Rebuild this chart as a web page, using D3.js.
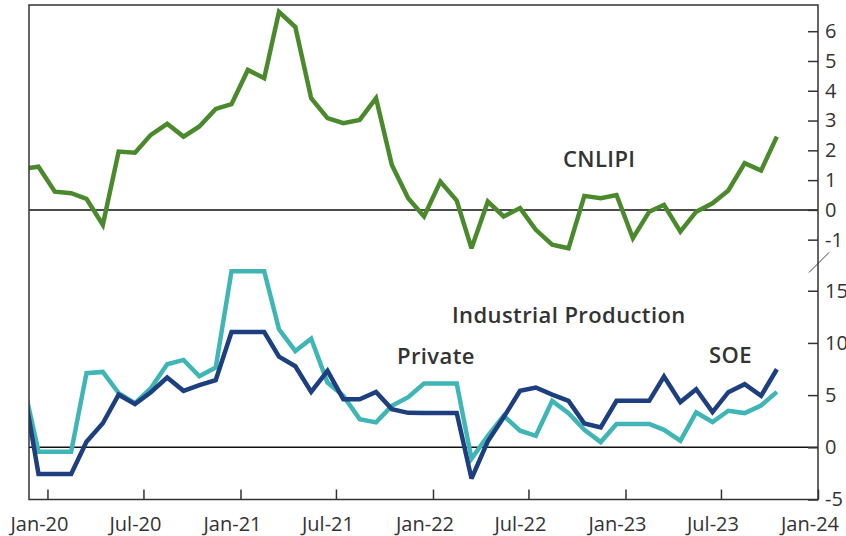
<!DOCTYPE html>
<html>
<head>
<meta charset="utf-8">
<script src="https://cdn.jsdelivr.net/npm/d3@7"></script>
<style>
  html, body { margin: 0; padding: 0; background: #ffffff; }
  svg { display: block; }
</style>
</head>
<body>
<svg id="chart" width="846" height="536"></svg>
<script>
// ---------- DATA ----------
const months = [
  "2019-11","2019-12",
  "2020-01","2020-02","2020-03","2020-04","2020-05","2020-06","2020-07","2020-08","2020-09","2020-10","2020-11","2020-12",
  "2021-01","2021-02","2021-03","2021-04","2021-05","2021-06","2021-07","2021-08","2021-09","2021-10","2021-11","2021-12",
  "2022-01","2022-02","2022-03","2022-04","2022-05","2022-06","2022-07","2022-08","2022-09","2022-10","2022-11","2022-12",
  "2023-01","2023-02","2023-03","2023-04","2023-05","2023-06","2023-07","2023-08","2023-09","2023-10"
];

// CNLIPI (top panel)
const cnlipi = [
  1.38, 1.45,
  0.61, 0.56, 0.37, -0.50, 1.96, 1.92, 2.52, 2.89, 2.46, 2.80, 3.39, 3.55,
  4.70, 4.42, 6.65, 6.14, 3.75, 3.08, 2.91, 3.02, 3.75, 1.51, 0.39, -0.22,
  0.95, 0.31, -1.29, 0.28, -0.22, 0.06, -0.67, -1.17, -1.29, 0.47, 0.39, 0.50,
  -0.95, -0.06, 0.17, -0.73, -0.06, 0.22, 0.65, 1.57, 1.32, 2.46
];

// Industrial Production – Private (bottom panel)
const privateIP = [
  6.46, -0.42,
  -0.42, -0.42, 7.10, 7.22, 5.19, 4.23, 5.66, 7.96, 8.37, 6.81, 7.64, 16.87,
  16.87, 16.87, 11.30, 9.23, 10.40, 6.20, 4.93, 2.70, 2.39, 3.97, 4.80, 6.11,
  6.11, 6.11, -1.10, 1.10, 3.02, 1.59, 1.10, 4.45, 3.26, 1.67, 0.50, 2.23,
  2.23, 2.23, 1.67, 0.63, 3.34, 2.42, 3.50, 3.28, 4.00, 5.31
];

// Industrial Production – SOE (bottom panel)
const soeIP = [
  6.27, -2.55,
  -2.55, -2.55, 0.53, 2.30, 5.04, 4.14, 5.28, 6.69, 5.41, 5.95, 6.43, 11.04,
  11.04, 11.04, 8.69, 7.77, 5.31, 7.32, 4.61, 4.61, 5.31, 3.66, 3.30, 3.28,
  3.28, 3.28, -3.00, 0.58, 2.87, 5.41, 5.73, 5.05, 4.45, 2.28, 1.91, 4.45,
  4.45, 4.45, 6.78, 4.33, 5.57, 3.37, 5.28, 6.05, 4.93, 7.48
];

const xTickDates  = ["2020-01","2020-07","2021-01","2021-07","2022-01","2022-07","2023-01","2023-07","2024-01"];
const xTickLabels = ["Jan-20","Jul-20","Jan-21","Jul-21","Jan-22","Jul-22","Jan-23","Jul-23","Jan-24"];
const topTicks    = [-1, 0, 1, 2, 3, 4, 5, 6];
const bottomTicks = [-5, 0, 5, 10, 15];

// ---------- LAYOUT ----------
const L = 29, R = 818, T = 5, B = 499.5;
const BREAK_Y = 262;

const svg = d3.select("#chart");
const parse = d3.utcParse("%Y-%m");
const midMonth = d => d3.utcDay.offset(parse(d), 14);

const x = d3.scaleUtc()
  .domain([Date.UTC(2019, 10, 27), Date.UTC(2024, 0, 1)])
  .range([L, R]);

const yTop = d3.scaleLinear().domain([-1.75, 6.88]).range([BREAK_Y, T]);
const yBot = d3.scaleLinear().domain([-5, 17.8]).range([B, BREAK_Y - 0.5]);

const textColor = "#333333";
const fontFam = "'Open Sans', Lato, 'DejaVu Sans', sans-serif";

// clip
svg.append("defs").append("clipPath").attr("id", "plotClip")
  .append("rect").attr("x", L).attr("y", T).attr("width", R - L).attr("height", B - T);

// zero lines
[yTop(0), yBot(0)].forEach(yy => {
  svg.append("line").attr("x1", L).attr("x2", R)
    .attr("y1", yy).attr("y2", yy)
    .attr("stroke", "#111").attr("stroke-width", 1.5);
});

// lines
const g = svg.append("g").attr("clip-path", "url(#plotClip)");
const mk = (ys) => d3.line()
  .x((d, i) => x(midMonth(months[i])))
  .y(d => ys(d));

const series = [
  { data: cnlipi,    scale: yTop, color: "#4b8a2c" },
  { data: privateIP, scale: yBot, color: "#40b5b5" },
  { data: soeIP,     scale: yBot, color: "#1d3f80" }
];
series.forEach(s => {
  g.append("path").datum(s.data)
    .attr("d", mk(s.scale))
    .attr("fill", "none").attr("stroke", s.color).attr("stroke-width", 4.5)
    .attr("stroke-linejoin", "miter").attr("stroke-miterlimit", 3);
});

// frame
svg.append("rect").attr("x", L).attr("y", T)
  .attr("width", R - L).attr("height", B - T)
  .attr("fill", "none").attr("stroke", "#333").attr("stroke-width", 1.5);

// right axes
const fmt = d => String(d);
const axTop = d3.axisRight(yTop).tickValues(topTicks).tickSizeInner(-10).tickSizeOuter(0).tickPadding(7).tickFormat(fmt);
const axBot = d3.axisRight(yBot).tickValues(bottomTicks).tickSizeInner(-10).tickSizeOuter(0).tickPadding(7).tickFormat(fmt);

function styleAxis(sel) {
  sel.select(".domain").remove();
  sel.selectAll(".tick line").attr("stroke", "#333").attr("stroke-width", 1.5);
  sel.selectAll(".tick text").attr("fill", textColor)
    .style("font-family", fontFam).style("font-size", "20px");
}
svg.append("g").attr("transform", `translate(${R},0)`).call(axTop).call(styleAxis);
svg.append("g").attr("transform", `translate(${R},0)`).call(axBot).call(styleAxis);

// bottom axis
const axX = d3.axisBottom(x)
  .tickValues(xTickDates.map(parse))
  .tickSizeInner(-10).tickSizeOuter(0).tickPadding(17)
  .tickFormat((d, i) => xTickLabels[i]);
svg.append("g").attr("transform", `translate(0,${B})`).call(axX).call(sel => {
  sel.select(".domain").remove();
  sel.selectAll(".tick line").attr("stroke", "#333").attr("stroke-width", 1.5);
  sel.selectAll(".tick text").attr("fill", textColor).attr("dx", -8.5)
    .style("font-family", fontFam).style("font-size", "20px");
});

// axis break marker
svg.append("line").attr("x1", 809).attr("y1", 272.5).attr("x2", 829).attr("y2", 252.5)
  .attr("stroke", "#444").attr("stroke-width", 1);

// annotations
const ann = [
  { t: "CNLIPI", x: 563, y: 167 },
  { t: "Industrial Production", x: 452, y: 323 },
  { t: "Private", x: 397, y: 364 },
  { t: "SOE", x: 709, y: 363 }
];
svg.selectAll("text.ann").data(ann).enter().append("text")
  .attr("class", "ann")
  .attr("x", d => d.x).attr("y", d => d.y)
  .attr("fill", textColor)
  .style("font-family", fontFam).style("font-weight", 600).style("font-size", "22px")
  .style("letter-spacing", "0.4px")
  .text(d => d.t);
</script>
</body>
</html>
